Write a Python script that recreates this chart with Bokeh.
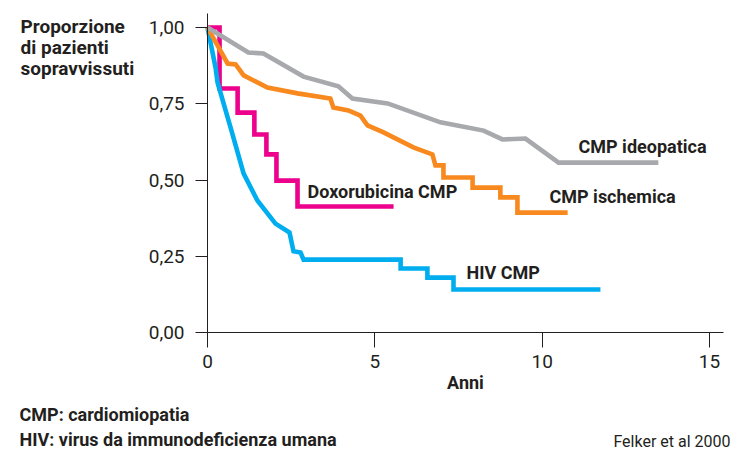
from bokeh.plotting import figure
from bokeh.models import Label, Range1d, FixedTicker, LinearAxis
from bokeh.embed import file_html
from bokeh.resources import INLINE

# ---- data ----
ideo_x = [0, 1.22, 1.67, 2.87, 3.91, 4.33, 5.38, 6.96, 8.25, 8.81, 9.50, 10.49, 13.47]
ideo_y = [1.0, 0.918, 0.915, 0.839, 0.807, 0.767, 0.751, 0.689, 0.662, 0.633, 0.636, 0.557, 0.557]

isch_x = [0, 0.60, 0.84, 1.08, 1.79, 2.69, 3.67, 3.76, 4.21, 4.57, 4.78, 5.26, 6.15, 6.72,
          6.81, 7.05, 7.05, 7.92, 7.92, 8.75, 8.75, 9.26, 9.26, 10.76]
isch_y = [1.0, 0.882, 0.879, 0.843, 0.803, 0.784, 0.767, 0.738, 0.728, 0.711, 0.679, 0.656, 0.607, 0.584,
          0.548, 0.548, 0.508, 0.508, 0.475, 0.475, 0.443, 0.443, 0.393, 0.393]

doxo_x = [0, 0.36, 0.36, 0.90, 0.90, 1.40, 1.40, 1.76, 1.76, 2.06, 2.06, 2.69, 2.69, 5.56]
doxo_y = [1.0, 1.0, 0.80, 0.80, 0.721, 0.721, 0.649, 0.649, 0.584, 0.584, 0.498, 0.498, 0.413, 0.413]

hiv_x = [0, 0.24, 0.30, 0.69, 1.08, 1.49, 2.03, 2.45, 2.57, 2.78, 2.87, 5.77, 5.77, 6.57, 6.57,
         7.35, 7.35, 11.74]
hiv_y = [1.0, 0.869, 0.820, 0.672, 0.521, 0.433, 0.357, 0.328, 0.266, 0.262, 0.239, 0.239, 0.210,
         0.210, 0.180, 0.180, 0.141, 0.141]

x_ticks = [0, 5, 10, 15]
y_ticks = [0.0, 0.25, 0.5, 0.75, 1.0]
y_tick_labels = ["0,00", "0,25", "0,50", "0,75", "1,00"]
x_axis_end = 15.42
y_axis_end = 1.046

series_names = ["CMP ideopatica", "CMP ischemica", "Doxorubicina CMP", "HIV CMP"]
y_title_lines = ["Proporzione", "di pazienti", "sopravvissuti"]
x_title = "Anni"
footnotes = ["CMP: cardiomiopatia", "HIV: virus da immunodeficienza umana"]
source = "Felker et al 2000"

# ---- styling ----
DARK = "#231F20"
GRAY = "#A7A9AC"
ORANGE = "#F7891F"
MAGENTA = "#EC008C"
CYAN = "#00AEEF"
FONT = "Roboto"

W, H = 744, 456
X0_PX, X_SCALE = 207, 33.47   # page px of x=0, px per year
Y0_PX, Y_SCALE = 332, 305     # page px of y=0, px per unit

p = figure(width=W, height=H, output_backend="svg", toolbar_location=None,
           x_axis_type=None, y_axis_type=None,
           x_range=Range1d(-X0_PX / X_SCALE, (W - X0_PX) / X_SCALE),
           y_range=Range1d((Y0_PX - H) / Y_SCALE, Y0_PX / Y_SCALE),
           min_border_left=0, min_border_right=0, min_border_top=0, min_border_bottom=0)
p.outline_line_color = None
p.grid.visible = False
p.background_fill_color = "white"
p.border_fill_color = "white"

lw = 4.6
p.line(doxo_x, doxo_y, line_color=MAGENTA, line_width=lw, line_join="miter")
p.line(hiv_x, hiv_y, line_color=CYAN, line_width=lw, line_join="miter")
p.line(isch_x, isch_y, line_color=ORANGE, line_width=lw, line_join="miter")
p.line(ideo_x, ideo_y, line_color=GRAY, line_width=lw, line_join="miter")

# axes, drawn at the data origin
xa = LinearAxis(fixed_location=0, bounds=(0, x_axis_end))
xa.ticker = FixedTicker(ticks=x_ticks)
xa.major_tick_out = 15
xa.major_tick_in = 0
xa.minor_tick_line_color = None
xa.axis_line_color = DARK
xa.major_tick_line_color = DARK
xa.major_label_text_font = FONT
xa.major_label_text_font_size = "19px"
xa.major_label_text_color = DARK
xa.major_label_standoff = 7
xa.axis_label = x_title
xa.axis_label_text_font = FONT
xa.axis_label_text_font_style = "bold"
xa.axis_label_text_font_size = "18px"
xa.axis_label_text_color = DARK
xa.axis_label_standoff = 1
p.add_layout(xa, "below")

ya = LinearAxis(fixed_location=0, bounds=(0, y_axis_end))
ya.ticker = FixedTicker(ticks=y_ticks)
ya.major_label_overrides = {t: l for t, l in zip(y_ticks, y_tick_labels)}
ya.major_tick_out = 12
ya.major_tick_in = 0
ya.minor_tick_line_color = None
ya.axis_line_color = DARK
ya.major_tick_line_color = DARK
ya.major_label_text_font = FONT
ya.major_label_text_font_size = "19px"
ya.major_label_text_color = DARK
ya.major_label_standoff = 11
p.add_layout(ya, "left")

def dx(px):
    return (px - X0_PX) / X_SCALE

def dy(py):
    return (Y0_PX - py) / Y_SCALE

def add_label(text, px, py, size, bold=True, align="left"):
    p.add_layout(Label(x=dx(px), y=dy(py), text=text, text_font=FONT,
                       text_font_size=size, text_font_style="bold" if bold else "normal",
                       text_color=DARK, text_baseline="alphabetic", text_align=align))

# series labels
add_label(series_names[0], 578, 146, "18px")
add_label(series_names[1], 549, 196, "18px")
add_label(series_names[2], 307, 191, "18px")
add_label(series_names[3], 466, 272, "18px")

# y title
for i, t in enumerate(y_title_lines):
    add_label(t, 20, 26 + 21 * i, "19px")

# footnotes
add_label(footnotes[0], 19, 414, "18px")
add_label(footnotes[1], 19, 439, "18px")
add_label(source, 730, 441, "16px", bold=False, align="right")

open("out.html", "w").write(file_html(p, INLINE))
